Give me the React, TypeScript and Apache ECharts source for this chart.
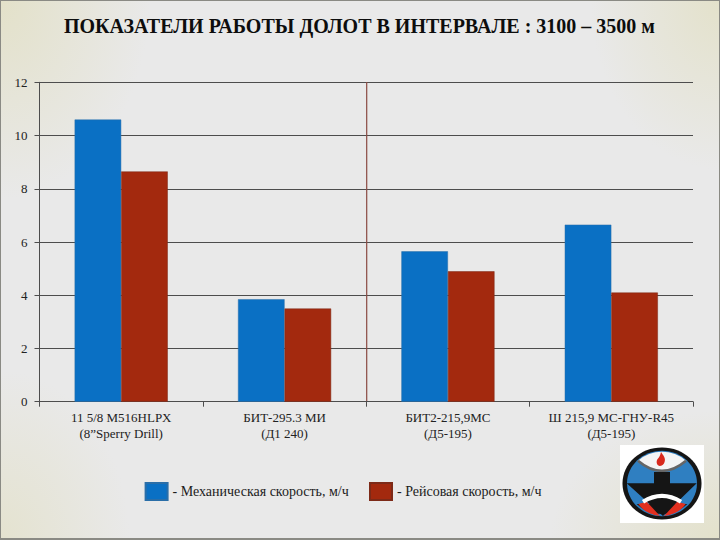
import React, { useEffect, useRef } from "react";
import * as echarts from "echarts";

const titleText = "ПОКАЗАТЕЛИ РАБОТЫ ДОЛОТ В ИНТЕРВАЛЕ : 3100 – 3500 м";
const categories = [
  "11 5/8 M516HLPX\n(8”Sperry Drill)",
  "БИТ-295.3 МИ\n(Д1 240)",
  "БИТ2-215,9МС\n(Д5-195)",
  "Ш 215,9 МС-ГНУ-R45\n(Д5-195)",
];
const seriesNames = ["Механическая скорость, м/ч", "Рейсовая скорость, м/ч"];
const mechanicalSpeed = [10.6, 3.85, 5.65, 6.65];
const tripSpeed = [8.65, 3.5, 4.9, 4.1];

const FONT = "'Liberation Serif', serif";
const BLUE = "#0a70c4";
const RED = "#a3290e";

const flame = "M0 -12 C3 -7 7 -3 5 3 C4 7 1 9 -2 9 C-6 8 -7 3 -5 -1 C-3 -4 -1 -6 0 -12 Z";
const dome = "M686 460.7 A35 32.7 0 0 0 638 460.7 Q662 481 686 460.7 Z";
const bottomCap = "M636.7 504 A35 32.7 0 0 0 687.3 504 Z";
const redLeft = "M638.3 504 L646.7 501.7 L660 516 Q645 514 638.3 504 Z";
const redRight = "M685.7 504 L677.3 501.7 L664 516 Q679 514 685.7 504 Z";
const arcGray = "M638 460.7 Q662 481 686 460.7";
const arcWhite = "M643 501.7 Q662 490 681 501.7";

export default function App() {
  const ref = useRef<HTMLDivElement>(null);
  useEffect(() => {
    document.body.style.margin = "0";
    const shapes: [string, string][] = [
      ["flame", flame], ["dome", dome], ["bottomCap", bottomCap],
      ["redLeft", redLeft], ["redRight", redRight], ["arcGray", arcGray], ["arcWhite", arcWhite],
    ];
    shapes.forEach(([n, d]) => echarts.graphic.registerShape(n, echarts.graphic.extendPath(d, {}) as any));
    const chart = echarts.init(ref.current!, null, { renderer: "svg" });
    const legendBase = {
      orient: "horizontal" as const,
      itemWidth: 22,
      itemHeight: 17,
      itemGap: 0,
      icon: "rect",
      textStyle: { fontFamily: FONT, fontSize: 14, color: "#1c1c1c" },
      formatter: (n: string) => "- " + n,
      selectedMode: false,
    };
    chart.setOption({
      animation: false,
      backgroundColor: "transparent",
      title: {
        text: titleText,
        left: 59,
        top: 11,
        textStyle: { fontFamily: FONT, fontSize: 20, fontWeight: "bold", color: "#0d0d0d" },
      },
      grid: { left: 39.5, right: 27, top: 82.3, bottom: 138.3, containLabel: false },
      legend: [
        { ...legendBase, data: [seriesNames[0]], left: 139.6, top: 477 },
        { ...legendBase, data: [seriesNames[1]], left: 364, top: 477 },
      ],
      xAxis: {
        type: "category",
        data: categories,
        axisLine: { lineStyle: { color: "#4d4d4d", width: 1 } },
        axisTick: { show: true, length: 5, alignWithLabel: false, lineStyle: { color: "#4d4d4d" } },
        axisLabel: { fontFamily: FONT, fontSize: 13, color: "#222222", lineHeight: 16, margin: 8, interval: 0 },
      },
      yAxis: {
        type: "value",
        min: 0,
        max: 12,
        interval: 2,
        axisLine: { show: true, lineStyle: { color: "#4d4d4d", width: 1 } },
        axisTick: { show: true, length: 5, lineStyle: { color: "#4d4d4d" } },
        axisLabel: { fontFamily: FONT, fontSize: 13, color: "#222222", margin: 12 },
        splitLine: { show: true, lineStyle: { color: "#4d4d4d", width: 1 } },
      },
      series: [
        {
          name: seriesNames[0],
          type: "bar",
          data: mechanicalSpeed,
          barGap: "0%",
          barCategoryGap: "43%",
          itemStyle: { color: BLUE, borderColor: "#2a6ea8", borderWidth: 0.5 },
        },
        {
          name: seriesNames[1],
          type: "bar",
          data: tripSpeed,
          itemStyle: { color: RED, borderColor: "#7d2a18", borderWidth: 0.5 },
        },
      ],
      graphic: [
        {
          type: "line",
          z: 10,
          shape: { x1: 366.7, y1: 82, x2: 366.7, y2: 401 },
          style: { stroke: "#8a4a42", lineWidth: 1.2 },
        },
        {
          type: "group",
          z: 10,
          children: [
            { type: "rect", z: 1, shape: { x: 620, y: 445, width: 84, height: 78 }, style: { fill: "#ffffff" } },
            { type: "ellipse", z: 2, shape: { cx: 662, cy: 483.5, rx: 39.5, ry: 36 }, style: { fill: "#151515" } },
            { type: "ellipse", z: 3, shape: { cx: 662, cy: 483.5, rx: 35, ry: 32.7 }, style: { fill: "#2f7fc1" } },
            { type: "dome", z: 4, style: { fill: "#f4f4f4" } },
            { type: "flame", z: 5, x: 661, y: 460, scaleX: 0.72, scaleY: 0.67, style: { fill: "#d8281c" } },
            { type: "arcGray", z: 5, style: { stroke: "#666666", lineWidth: 2.5, fill: "none" } },
            { type: "polygon", z: 6, shape: { points: [[654, 472], [670, 472], [670, 483.3], [696.7, 483.3], [663, 516], [626.7, 483.3], [654, 483.3]] }, style: { fill: "#151515" } },
            { type: "bottomCap", z: 6, style: { fill: "#151515" } },
            { type: "redLeft", z: 7, style: { fill: "#e23020" } },
            { type: "redRight", z: 7, style: { fill: "#e23020" } },
            { type: "arcWhite", z: 7, style: { stroke: "#ffffff", lineWidth: 4, fill: "none" } },
          ],
        },
      ],
    });
    return () => chart.dispose();
  }, []);
  const bg = [
    "radial-gradient(ellipse 150px 200px at 0 0, rgba(225,222,190,0.75), rgba(233,233,233,0) 100%)",
    "radial-gradient(ellipse 130px 170px at 100% 0, rgba(225,222,190,0.7), rgba(233,233,233,0) 100%)",
    "radial-gradient(ellipse 130px 170px at 0 100%, rgba(225,222,190,0.6), rgba(233,233,233,0) 100%)",
    "radial-gradient(ellipse 170px 130px at 100% 100%, rgba(225,222,190,0.7), rgba(233,233,233,0) 100%)",
  ].join(",");
  return (
    <div
      style={{
        position: "absolute",
        left: 0,
        top: 0,
        width: 720,
        height: 540,
        boxSizing: "border-box",
        backgroundColor: "#e9e9e9",
        backgroundImage: bg,
        overflow: "hidden",
      }}
    >
      <div ref={ref} style={{ width: 720, height: 540 }} />
      <div style={{ position: "absolute", inset: 0, border: "1px solid #8a8a84", borderBottomWidth: 2, pointerEvents: "none" }} />
    </div>
  );
}
